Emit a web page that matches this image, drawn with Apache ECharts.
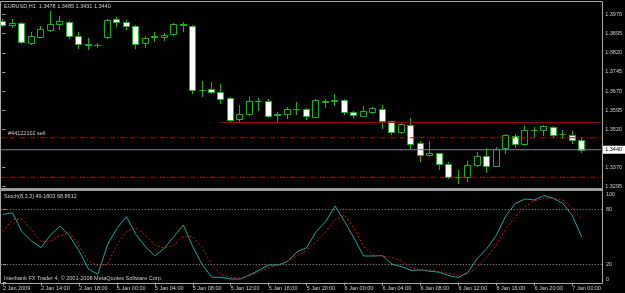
<!DOCTYPE html>
<html>
<head>
<meta charset="utf-8">
<script src="https://cdn.jsdelivr.net/npm/echarts@6/dist/echarts.min.js"></script>
<style>
html, body { margin: 0; padding: 0; background: #000; }
#chart { width: 625px; height: 293px; }
</style>
</head>
<body>
<div id="chart"></div>
<script>
// EURUSD H1 bars, 2 Jan 2009 10:00 .. 7 Jan 2009 01:00 (index = bar number)
var opens  = [1.3943,1.3928,1.3937,1.3860,1.3883,1.3909,1.3932,1.3942,1.3885,1.3854,1.3849,1.3883,1.3954,1.3939,1.3926,1.3857,
              1.3883,1.3881,1.3892,1.3932,1.3925,1.3675,1.3677,1.3668,1.3642,1.3560,1.3579,1.3631,1.3631,1.3580,1.3580,1.3600,
              1.3599,1.3570,1.3632,1.3632,1.3634,1.3589,1.3574,1.3589,1.3601,1.3553,1.3509,1.3537,1.3466,1.3420,1.3426,1.3383,
              1.3332,1.3332,1.3382,1.3417,1.3377,1.3446,1.3494,1.3462,1.3518,1.3516,1.3531,1.3502,1.3499,1.3478];
var highs  = [1.3954,1.3951,1.3941,1.3900,1.3925,1.3984,1.3964,1.3945,1.3901,1.3877,1.3860,1.3951,1.3961,1.3948,1.3930,1.3887,
              1.3900,1.3899,1.3936,1.3941,1.3928,1.3711,1.3706,1.3698,1.3648,1.3616,1.3648,1.3644,1.3638,1.3588,1.3607,1.3628,
              1.3603,1.3640,1.3640,1.3659,1.3638,1.3593,1.3613,1.3607,1.3616,1.3554,1.3550,1.3563,1.3475,1.3475,1.3429,1.3393,
              1.3361,1.3397,1.3431,1.3446,1.3451,1.3501,1.3503,1.3533,1.3528,1.3537,1.3533,1.3518,1.3513,1.3485];
var lows   = [1.3925,1.3922,1.3857,1.3853,1.3881,1.3907,1.3912,1.3879,1.3840,1.3835,1.3842,1.3879,1.3925,1.3914,1.3840,1.3844,
              1.3867,1.3870,1.3890,1.3905,1.3661,1.3651,1.3663,1.3622,1.3550,1.3554,1.3576,1.3596,1.3570,1.3548,1.3565,1.3579,
              1.3561,1.3567,1.3607,1.3616,1.3580,1.3567,1.3572,1.3585,1.3524,1.3501,1.3505,1.3443,1.3396,1.3416,1.3364,1.3328,
              1.3309,1.3318,1.3378,1.3354,1.3375,1.3429,1.3452,1.3459,1.3494,1.3498,1.3491,1.3487,1.3468,1.3431];
var closes = [1.3928,1.3937,1.3861,1.3886,1.3912,1.3932,1.3945,1.3885,1.3853,1.3852,1.3850,1.3947,1.3942,1.3924,1.3854,1.3877,
              1.3884,1.3891,1.3933,1.3928,1.3675,1.3674,1.3668,1.3640,1.3557,1.3580,1.3631,1.3630,1.3574,1.3578,1.3600,1.3601,
              1.3572,1.3634,1.3629,1.3633,1.3589,1.3578,1.3591,1.3603,1.3554,1.3510,1.3540,1.3463,1.3420,1.3429,1.3383,1.3332,
              1.3333,1.3379,1.3415,1.3378,1.3442,1.3497,1.3463,1.3518,1.3519,1.3534,1.3497,1.3501,1.3478,1.3440];

// Stochastic (8,3,3): main and signal
var stochMain = [74.2,76,55.4,45.3,38,51.8,61.2,51.1,34.8,14.9,9.1,40.9,59,71.7,52.5,39.1,
                 29,37.3,50,62.6,39.1,19.5,5.9,5.9,4,4,8.4,13.8,19.2,19.2,22.9,33.7,
                 38,55.4,66.3,83.3,66.3,48.2,29,29,29.4,20,17.4,13.3,13.8,12.4,11.3,7.7,
                 5.5,11.3,26.5,37.3,51.8,72.8,86.1,90.9,89.8,94.5,91.6,86.1,72.8,49.1803];
var stochSignal = [55.4,68.8,68.8,57.2,44.6,45.3,51.1,54.3,40.9,23.6,18.2,20,40.9,55.4,59.7,51.8,
                   40.9,37.3,40.9,50,50,38,19.2,9.1,5.5,4.8,7.7,12,16.3,19.2,23.6,29,
                   35.5,44.6,55.4,68.1,73.5,59,39.1,30.1,29,27.2,23.6,16.5,13.8,13.8,12,10.2,
                   7.7,9.1,17.4,28.3,40.9,59,71.7,82.5,88.7,91.6,91.6,89.8,80.7,68.8612];

// time axis labels (bar index -> text)
var timeTickBars = [0,4,8,12,16,20,24,28,32,36,40,44,48,52,56,60];
var timeTickLabels = ['2 Jan 2009','2 Jan 14:00','2 Jan 18:00','5 Jan 00:00','5 Jan 04:00','5 Jan 08:00',
                      '5 Jan 12:00','5 Jan 16:00','5 Jan 20:00','6 Jan 00:00','6 Jan 04:00','6 Jan 08:00',
                      '6 Jan 12:00','6 Jan 16:00','6 Jan 20:00','7 Jan 00:00'];
var priceTicks = [1.3295,1.3370,1.3520,1.3595,1.3670,1.3745,1.3820,1.3895,1.3970];
var stochTicks = [0,20,80,100];
var stochLevels = [20,80];

// horizontal lines on the price window
var bidPrice = 1.3440;
var orderPrice = 1.3487;
var orderName = '#44122102 sell';
var stopPrice = 1.3332;
var hLinePrice = 1.3547;
var hLineStartBar = 22.9;

var xMin = -0.242, xMax = 63.126;
var font = 'Liberation Sans';
var txt = '#cfcfcf';
var frame = '#a9a9a9';
var green = '#14b814';
var orderRed = '#a81010';

var candles = opens.map(function (o, i) { return [i, o, closes[i], lows[i], highs[i]]; });
var last = opens.length - 1;
var header = 'EURUSD,H1  ' + [opens[last], highs[last], lows[last], closes[last]].map(function (v) { return v.toFixed(4); }).join(' ');
var stochHeader = 'Stoch(8,3,3) ' + stochMain[last].toFixed(4) + ' ' + stochSignal[last].toFixed(4);

function renderCandle(params, api) {
  var i = api.value(0), o = api.value(1), c = api.value(2), l = api.value(3), h = api.value(4);
  var po = api.coord([i, o]), pc = api.coord([i, c]);
  var ph = api.coord([i, h]), pl = api.coord([i, l]);
  var cx = Math.round(po[0]) + 0.5;
  var top = Math.round(Math.min(po[1], pc[1])) + 0.5;
  var bot = Math.round(Math.max(po[1], pc[1])) + 0.5;
  return {
    type: 'group',
    children: [
      { type: 'line', shape: { x1: cx, y1: Math.round(ph[1]), x2: cx, y2: Math.round(pl[1]) + 1 },
        style: { stroke: green, lineWidth: 1 } },
      { type: 'rect', shape: { x: cx - 3, y: top, width: 6, height: bot - top },
        style: { fill: c < o ? '#ffffff' : '#000000', stroke: green, lineWidth: 1 } }
    ]
  };
}

// a flat line across the price window between two bar positions
function hline(fromBar, price, style, extra) {
  var s = {
    type: 'line', xAxisIndex: 0, yAxisIndex: 0, silent: true, showSymbol: false,
    data: [[fromBar, price], [xMax, price]],
    lineStyle: style
  };
  for (var k in extra) s[k] = extra[k];
  return s;
}

var myChart = echarts.init(document.getElementById('chart'), null, { renderer: 'canvas' });

var option = {
  backgroundColor: '#000',
  animation: false,
  textStyle: { fontFamily: font },
  title: [
    { text: header, left: 4, top: 3, padding: 0, textStyle: { color: txt, fontSize: 5.5, fontWeight: 'normal', fontFamily: font } },
    { text: stochHeader, left: 4, top: 193, padding: 0, textStyle: { color: txt, fontSize: 5.5, fontWeight: 'normal', fontFamily: font } },
    { text: 'Interbank FX Trader 4, © 2001-2008 MetaQuotes Software Corp.', left: 4, top: 275, padding: 0,
      textStyle: { color: txt, fontSize: 5.5, fontWeight: 'normal', fontFamily: font } }
  ],
  grid: [
    { left: 0, top: 2, width: 602, height: 186 },
    { left: 0, top: 190.6, width: 602, height: 92.1 }
  ],
  xAxis: [
    { type: 'value', gridIndex: 0, min: xMin, max: xMax, show: false },
    { type: 'value', gridIndex: 1, min: xMin, max: xMax,
      axisLine: { show: false }, splitLine: { show: false },
      axisTick: { show: true, length: 3, customValues: timeTickBars, lineStyle: { color: frame } },
      axisLabel: { customValues: timeTickBars, color: txt, fontSize: 5.5, fontFamily: font, margin: 3, align: 'left',
        formatter: function (v) { var k = timeTickBars.indexOf(Math.round(v)); return k >= 0 ? timeTickLabels[k] : ''; } } }
  ],
  yAxis: [
    { type: 'value', gridIndex: 0, position: 'right', min: 1.3290, max: 1.4019,
      axisLine: { show: false }, splitLine: { show: false },
      axisTick: { show: true, length: 3, customValues: priceTicks, lineStyle: { color: frame } },
      axisLabel: { customValues: priceTicks, color: txt, fontSize: 5.5, fontFamily: font, margin: 4,
        formatter: function (v) { return v.toFixed(4); } } },
    { type: 'value', gridIndex: 1, position: 'right', min: 0, max: 100,
      axisLine: { show: false }, splitLine: { show: false },
      axisTick: { show: true, length: 3, customValues: stochTicks, lineStyle: { color: frame } },
      axisLabel: { customValues: stochTicks, color: txt, fontSize: 5.5, fontFamily: font, margin: 4,
        formatter: function (v) {
          if (v === 100) return '{t|100}';
          if (v === 0) return '{b|0}';
          return String(v);
        },
        rich: {
          t: { color: txt, fontSize: 5.5, fontFamily: font, padding: [7, 0, 0, 0] },
          b: { color: txt, fontSize: 5.5, fontFamily: font, padding: [0, 0, 6, 0] }
        } } }
  ],
  series: [
    hline(hLineStartBar, hLinePrice, { color: '#8a0a0a', width: 1 }),
    hline(xMin, stopPrice, { color: orderRed, width: 1, type: [5, 2, 1, 2] }),
    {
      type: 'line', xAxisIndex: 0, yAxisIndex: 0, silent: true, showSymbol: true, symbol: 'circle', symbolSize: 0.1,
      data: [
        { value: [xMin, orderPrice],
          label: { show: true, position: 'right', formatter: orderName, color: txt, fontSize: 5.5, fontFamily: font,
            offset: [3, -4] } },
        [xMax, orderPrice]
      ],
      itemStyle: { color: 'rgba(0,0,0,0)' },
      lineStyle: { color: orderRed, width: 1, type: [5, 2, 1, 2] }
    },
    hline(xMin, bidPrice, { color: '#7b8896', width: 1 }, {
      endLabel: { show: true, formatter: bidPrice.toFixed(4), color: '#000', backgroundColor: '#fff',
        fontSize: 5.5, fontFamily: font, padding: [1, 3, 1, 3], distance: 1 }
    }),
    {
      type: 'custom', xAxisIndex: 0, yAxisIndex: 0, renderItem: renderCandle,
      encode: { x: 0, y: [1, 2, 3, 4] }, data: candles, clip: true
    },
    {
      type: 'line', xAxisIndex: 1, yAxisIndex: 1, showSymbol: false,
      data: stochMain.map(function (v, i) { return [i, v]; }),
      lineStyle: { color: '#1fa5a0', width: 1 },
      markLine: {
        silent: true, symbol: 'none',
        data: stochLevels.map(function (v) { return { yAxis: v }; }),
        lineStyle: { color: '#9a9a9a', type: [1, 2], width: 1 },
        label: { show: false }
      }
    },
    {
      type: 'line', xAxisIndex: 1, yAxisIndex: 1, showSymbol: false,
      data: stochSignal.map(function (v, i) { return [i, v]; }),
      lineStyle: { color: '#d01818', width: 1, type: [2, 2] }
    }
  ],
  graphic: [
    { type: 'polyline', silent: true, z: 100,
      shape: { points: [[0.5, 283.5], [0.5, 1.5], [602.5, 1.5], [602.5, 283.5], [0.5, 283.5]] },
      style: { stroke: frame, fill: null, lineWidth: 1 } },
    { type: 'rect', silent: true, z: 100, shape: { x: 0, y: 188, width: 603, height: 3 },
      style: { fill: '#9c9c9c' } }
  ]
};

myChart.setOption(option);
</script>
</body>
</html>
